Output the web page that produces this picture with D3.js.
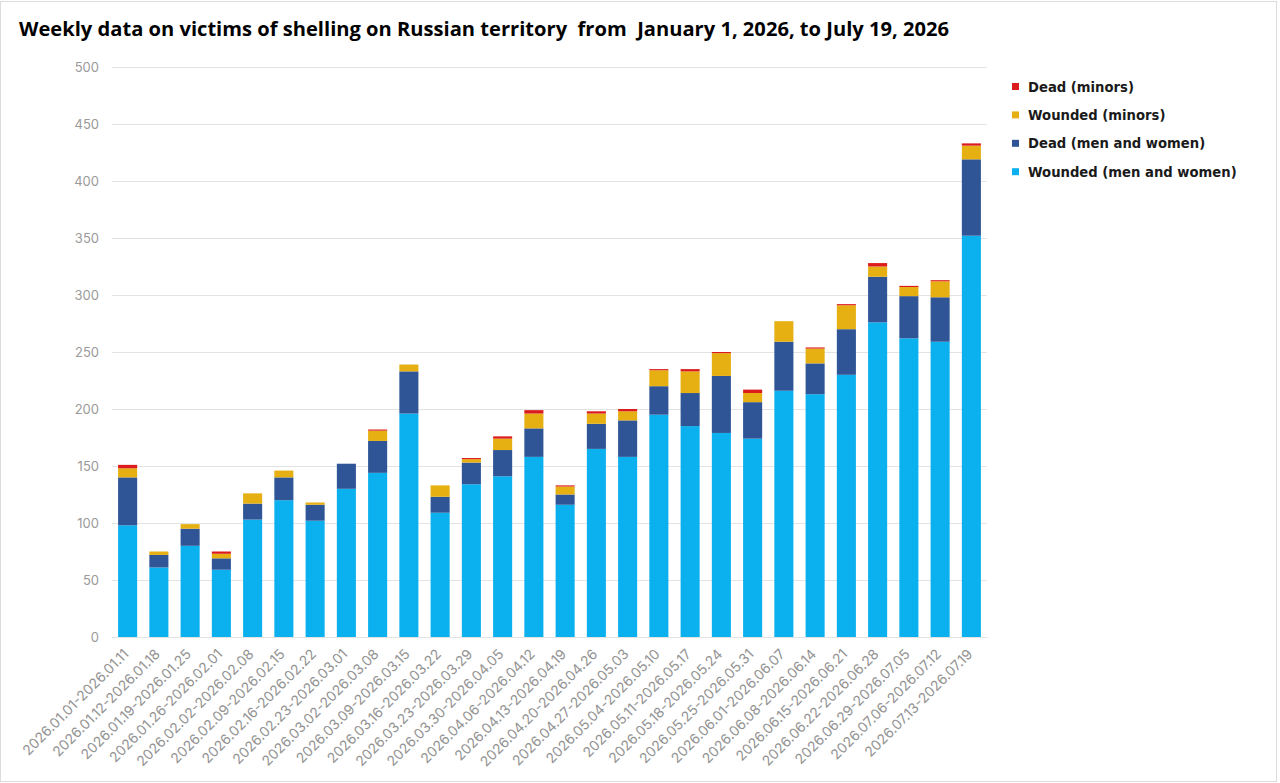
<!DOCTYPE html>
<html>
<head>
<meta charset="utf-8">
<script src="https://cdn.jsdelivr.net/npm/d3@7"></script>
<style>
  html, body { margin: 0; padding: 0; background: #fff; }
  svg { display: block; }
</style>
</head>
<body>
<svg id="chart" width="1280" height="783"></svg>
<script>
// ---- DATA ----
const weeks = [
  "2026.01.01-2026.01.11", "2026.01.12-2026.01.18", "2026.01.19-2026.01.25", "2026.01.26-2026.02.01",
  "2026.02.02-2026.02.08", "2026.02.09-2026.02.15", "2026.02.16-2026.02.22", "2026.02.23-2026.03.01",
  "2026.03.02-2026.03.08", "2026.03.09-2026.03.15", "2026.03.16-2026.03.22", "2026.03.23-2026.03.29",
  "2026.03.30-2026.04.05", "2026.04.06-2026.04.12", "2026.04.13-2026.04.19", "2026.04.20-2026.04.26",
  "2026.04.27-2026.05.03", "2026.05.04-2026.05.10", "2026.05.11-2026.05.17", "2026.05.18-2026.05.24",
  "2026.05.25-2026.05.31", "2026.06.01-2026.06.07", "2026.06.08-2026.06.14", "2026.06.15-2026.06.21",
  "2026.06.22-2026.06.28", "2026.06.29-2026.07.05", "2026.07.06-2026.07.12", "2026.07.13-2026.07.19"
];
const woundedAdults = [98, 61, 80, 59, 103, 120, 102, 130, 144, 196, 109, 134, 141, 158, 116, 165, 158, 195, 185, 179, 174, 216, 213, 230, 276, 262, 259, 352];
const deadAdults    = [42, 11, 15, 10, 14, 20, 14, 22, 28, 37, 14, 19, 23, 25, 9, 22, 32, 25, 29, 50, 32, 43, 27, 40, 40, 37, 39, 67];
const woundedMinors = [8, 3, 4, 4, 9, 6, 2, 0, 9, 6, 10, 3, 10, 13, 7, 9, 8, 14, 19, 20, 8, 18, 13, 21, 9, 8, 14, 12];
const deadMinors    = [3, 0, 0, 2, 0, 0, 0, 0, 1, 0, 0, 1, 2, 3, 1, 2, 2, 1, 2, 1, 3, 0, 1, 1, 3, 1, 1, 2];
const yTicks = [0, 50, 100, 150, 200, 250, 300, 350, 400, 450, 500];
const seriesKeys = ["woundedAdults", "deadAdults", "woundedMinors", "deadMinors"];
const seriesNames = {
  woundedAdults: "Wounded (men and women)",
  deadAdults: "Dead (men and women)",
  woundedMinors: "Wounded (minors)",
  deadMinors: "Dead (minors)"
};
const legendOrder = ["deadMinors", "woundedMinors", "deadAdults", "woundedAdults"];
const titleText = "Weekly data on victims of shelling on Russian territory  from  January 1, 2026, to July 19, 2026";

// ---- BUILD ----
const colors = {
  woundedAdults: "#0bb0ee",
  deadAdults: "#2f5597",
  woundedMinors: "#e6b012",
  deadMinors: "#dc1c1c"
};
const table = weeks.map((w, i) => ({
  week: w,
  woundedAdults: woundedAdults[i],
  deadAdults: deadAdults[i],
  woundedMinors: woundedMinors[i],
  deadMinors: deadMinors[i]
}));

const svg = d3.select("#chart");
const W = 1280, H = 783;
const margin = { left: 112, right: 293, top: 67, bottom: 146 };
const x = d3.scaleBand().domain(weeks).range([margin.left, W - margin.right]).paddingInner(0.39).paddingOuter(0.195);
const y = d3.scaleLinear().domain([0, 500]).range([H - margin.bottom, margin.top]);

// frame
svg.append("rect").attr("x", 0.5).attr("y", 1.5).attr("width", 1276).attr("height", 780)
  .attr("fill", "#fff").attr("stroke", "#dcdcdc").attr("stroke-width", 1);

// title
svg.append("text")
  .attr("x", 19).attr("y", 36)
  .attr("font-family", "'Open Sans', sans-serif")
  .attr("font-weight", 700)
  .attr("font-size", 20)
  .attr("fill", "#000")
  .style("white-space", "pre")
  .attr("textLength", 930)
  .attr("lengthAdjust", "spacingAndGlyphs")
  .text(titleText);

// grid + y axis
const yAxis = d3.axisLeft(y).tickValues(yTicks).tickSize(-(W - margin.left - margin.right)).tickPadding(13);
const gy = svg.append("g").attr("transform", `translate(${margin.left},0)`).call(yAxis);
gy.select(".domain").remove();
gy.selectAll(".tick line").attr("stroke", "#e3e3e3").attr("stroke-width", 1);
gy.selectAll(".tick text")
  .attr("fill", "#9a9a9a")
  .attr("font-family", "Inter, 'Open Sans', sans-serif")
  .attr("font-size", 13);

// stacked bars
const stack = d3.stack().keys(seriesKeys);
const layers = stack(table);
svg.append("g").selectAll("g").data(layers).join("g")
  .attr("fill", d => colors[d.key])
  .selectAll("rect").data(d => d).join("rect")
  .attr("x", d => x(d.data.week))
  .attr("width", x.bandwidth())
  .attr("y", d => y(d[1]))
  .attr("height", d => Math.max(0, y(d[0]) - y(d[1])));

// x axis
const xAxis = d3.axisBottom(x).tickSize(0).tickPadding(0);
const gx = svg.append("g").attr("transform", `translate(0,${y(0)})`).call(xAxis);
gx.select(".domain").attr("stroke", "#e3e3e3");
gx.selectAll(".tick text")
  .attr("fill", "#939393")
  .attr("font-family", "Inter, 'Open Sans', sans-serif")
  .attr("font-size", 14)
  .attr("text-anchor", "end")
  .attr("dy", 0)
  .attr("transform", "translate(2,18) rotate(-45)");

// legend
const lg = svg.append("g").attr("transform", "translate(1012,87)");
const items = lg.selectAll("g").data(legendOrder).join("g")
  .attr("transform", (d, i) => `translate(0,${i * 28.4})`);
items.append("rect").attr("x", 0).attr("y", -4).attr("width", 7).attr("height", 7)
  .attr("fill", d => colors[d]);
items.append("text").attr("x", 16).attr("y", 0).attr("dy", "0.35em")
  .attr("font-family", "'DejaVu Sans', Verdana, sans-serif")
  .attr("font-weight", 700)
  .attr("font-size", 13.2)
  .attr("fill", "#1a1a1a")
  .text(d => seriesNames[d]);
</script>
</body>
</html>
